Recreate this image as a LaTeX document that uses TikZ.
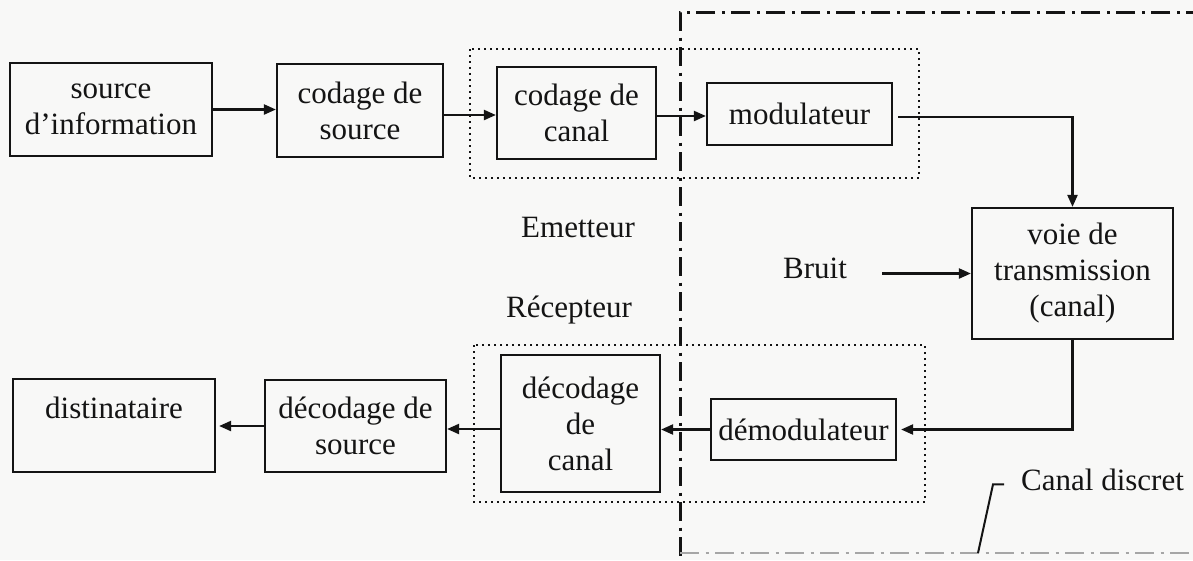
\documentclass[tikz,border=0pt]{standalone}
\usepackage{fontspec}
\setmainfont{Liberation Serif}
\usetikzlibrary{arrows.meta,calc}
\definecolor{paper}{RGB}{248,248,247}
\definecolor{ink}{RGB}{20,20,20}
\begin{document}
\begin{tikzpicture}[x=1pt,y=-1pt,
  every node/.style={font=\fontsize{31}{36}\selectfont, inner sep=0pt, text=ink},
  blk/.style={draw=ink, line width=2.2pt, align=center},
  lbl/.style={anchor=base},
  arr/.style={draw=ink, line width=2.2pt, -{Triangle[length=12pt,width=10pt]}},
  grp/.style={draw=ink, line width=1.8pt, dash pattern=on 1.8pt off 4.2pt},
  bnd/.style={draw=ink, line width=3pt, dash pattern=on 19pt off 6.5pt on 3pt off 6.5pt},
  bndfaint/.style={draw=black!35, line width=2pt, dash pattern=on 19pt off 6.5pt on 3pt off 6.5pt},
  leader/.style={draw=ink, line width=2pt}
]
\fill[paper] (0,0) rectangle (1193,560);
\useasboundingbox (0,0) rectangle (1193,560);

% group frames (dotted)
\draw[grp] (470,49) rectangle (919,178);
\draw[grp] (474,345) rectangle (925,502);

% channel boundary (dash-dot)
\coordinate (bTR) at (1205,12);
\coordinate (bTL) at (680,12);
\coordinate (bBL) at (680,568);
\coordinate (bML) at (680,553);
\coordinate (bMR) at (1205,553);
\draw[bnd] (bTR) -- (bTL) -- (bBL);
\draw[bndfaint] (bML) -- (bMR);

% blocks
\node[blk, minimum width=202pt, minimum height=93pt] (src) at (111,109.5) {source\\d’information};
\node[blk, minimum width=166pt, minimum height=93pt] (cs) at (360,110.5) {codage de\\source};
\node[blk, minimum width=159pt, minimum height=92pt] (cc) at (576.5,113) {codage de\\canal};
\node[blk, minimum width=185pt, minimum height=62pt] (mod) at (799.5,114) {modulateur};
\node[blk, minimum width=201pt, minimum height=131pt] (voie) at (1072.5,273.5) {voie de\\transmission\\(canal)};
\node[blk, minimum width=185pt, minimum height=61pt] (demod) at (803.5,429.5) {démodulateur};
\node[blk, minimum width=159pt, minimum height=137pt] (dc) at (580.5,423.5) {décodage\\de\\canal};
\node[blk, minimum width=181pt, minimum height=92pt] (ds) at (355.5,426) {décodage de\\source};
\node[blk, minimum width=202pt, minimum height=93pt] (dist) at (114,425.5) {distinataire\\\phantom{source}};

% labels
\node[lbl] (em) at (578,237) {Emetteur};
\node[lbl] (rec) at (569,317) {Récepteur};
\node[lbl] (bruit) at (815,278) {Bruit};
\node[anchor=base west] (cd) at (1021,490) {Canal discret};

% helper coordinates
\coordinate (y115) at (0,115);
\coordinate (y116) at (0,116);
\coordinate (y117) at (0,117);
\coordinate (y429) at (0,429);
\coordinate (m1) at ([xshift=5pt]mod.east);
\coordinate (d1) at ([xshift=4pt]demod.east);
\coordinate (b1) at ([xshift=35pt]bruit.east);
\coordinate (ld) at (978,553);

% connectors
\draw[arr] (src.east) -- (src.east -| cs.west);
\draw[arr] (cs.east |- y115) -- (cc.west |- y115);
\draw[arr] (cc.east |- y116) -- (mod.west |- y116);
\draw[arr] (m1 |- y117) -| (voie.north);
\draw[arr] (voie.south) |- (d1);
\draw[arr] (demod.west) -- (demod.west -| dc.east);
\draw[arr] (dc.west |- y429) -- (ds.east |- y429);
\draw[arr, shorten >=3pt] (ds.west) -- (ds.west -| dist.east);
\draw[arr] (b1 |- voie.west) -- (voie.west);
\draw[leader] ([xshift=-17pt,yshift=-5pt]cd.west) -- ([xshift=-28pt,yshift=-5pt]cd.west) -- (ld);
\end{tikzpicture}
\end{document}
